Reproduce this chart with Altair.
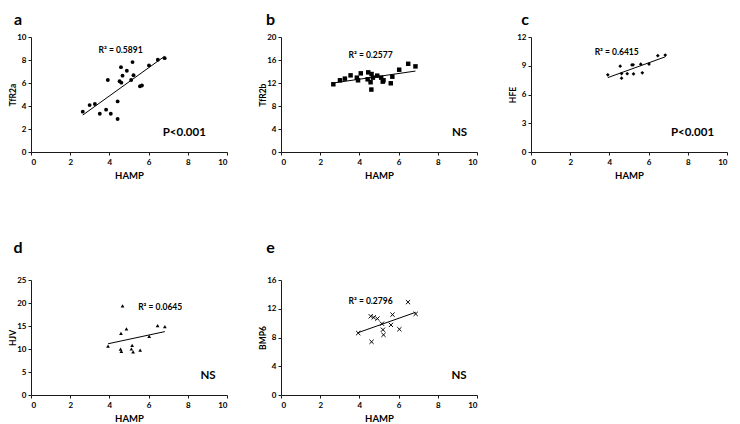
import altair as alt
import pandas as pd

FONT = "Lato"

# ---- data ----
a_x = [2.64, 2.99, 3.26, 3.51, 3.83, 3.92, 4.07, 4.42, 4.42, 4.52, 4.59, 4.61, 4.67, 4.89, 5.11, 5.18, 5.23, 5.56, 5.66, 6.02, 6.47, 6.82]
a_y = [3.51, 4.08, 4.17, 3.33, 3.68, 6.26, 3.33, 4.40, 2.87, 6.15, 7.38, 6.03, 6.64, 7.07, 6.26, 7.82, 6.67, 5.72, 5.78, 7.53, 8.02, 8.16]

b_x = [2.67, 3.01, 3.26, 3.55, 3.87, 3.93, 4.07, 4.42, 4.45, 4.57, 4.61, 4.62, 4.69, 4.91, 5.11, 5.19, 5.23, 5.60, 5.68, 6.03, 6.49, 6.86]
b_y = [11.78, 12.47, 12.76, 13.33, 12.93, 12.47, 13.68, 12.64, 13.85, 12.13, 10.86, 13.56, 12.93, 13.28, 12.93, 12.24, 12.47, 11.95, 13.10, 14.31, 15.34, 14.89]

c_x = [3.92, 4.55, 4.62, 4.62, 4.91, 5.15, 5.21, 5.23, 5.60, 5.68, 6.02, 6.47, 6.85]
c_y = [8.05, 8.95, 8.18, 7.70, 8.17, 9.08, 9.10, 8.15, 9.16, 8.26, 9.17, 10.05, 10.12]

d_x = [3.93, 4.67, 4.59, 4.87, 4.57, 4.61, 5.16, 5.12, 5.21, 5.57, 6.03, 6.46, 6.83]
d_y = [10.62, 19.40, 13.40, 14.35, 9.95, 9.50, 10.80, 10.00, 9.40, 9.75, 12.75, 15.08, 14.86]

e_x = [3.94, 4.58, 4.62, 4.73, 4.92, 5.15, 5.20, 5.23, 5.61, 5.69, 6.04, 6.48, 6.87]
e_y = [8.62, 10.95, 7.40, 10.80, 10.62, 9.92, 9.08, 8.37, 9.75, 11.18, 9.15, 12.92, 11.28]

letters = ["a", "b", "c", "d", "e"]
y_titles = ["TfR2a", "TfR2b", "HFE", "HJV", "BMP6"]
y_max = [10, 20, 12, 25, 16]
y_step = [2, 4, 3, 5, 4]
r2_text = ["R\u00b2 = 0.5891", "R\u00b2 = 0.2577", "R\u00b2 = 0.6415", "R\u00b2 = 0.0645", "R\u00b2 = 0.2796"]
r2_pos_x = [4.57, 4.57, 4.37, 6.59, 4.57]
r2_pos_y = [8.9, 16.84, 10.45, 19.06, 13.04]
sig_text = ["P<0.001", "NS", "P<0.001", "NS", "NS"]
sig_pos_x = [7.82, 9.11, 8.24, 9.03, 9.08]
sig_pos_y = [1.67, 3.33, 2.0, 4.17, 2.67]
x_ticks = [0, 2, 4, 6, 8, 10]

W, H = 196, 115
letter_dx = [-13, -10.5, -6, -13, -10.5]
letter_dy = [-17.5, -17.5, -17.5, -32, -32]

X_SHAPE = "M-1,-1L1,1M-1,1L1,-1"
shapes = ["circle", "square", "diamond", "triangle-up", X_SHAPE]
sizes = [15, 20, 14, 14, 18]
filled = [True, True, True, True, False]

xs_all = [a_x, b_x, c_x, d_x, e_x]
ys_all = [a_y, b_y, c_y, d_y, e_y]


def panel(i):
    df = pd.DataFrame({"HAMP": xs_all[i], "v": ys_all[i]})
    xsc = alt.Scale(domain=[0, 10], nice=False)
    ysc = alt.Scale(domain=[0, y_max[i]], nice=False)
    yvals = list(range(0, y_max[i] + 1, y_step[i]))
    xax = alt.Axis(values=x_ticks, title="HAMP", titlePadding=4, labelPadding=3,
                   labelOverlap=False)
    yax = alt.Axis(values=yvals, title=y_titles[i], labelPadding=2, labelOverlap=False,
                   titleX=-19, titleY=H / 2, titleBaseline="middle", titleAngle=270)
    xenc = alt.X("HAMP:Q", scale=xsc, axis=xax)
    yenc = alt.Y("v:Q", scale=ysc, axis=yax)
    base = alt.Chart(df)
    if filled[i]:
        pts = base.mark_point(shape=shapes[i], filled=True, size=sizes[i],
                              color="black", opacity=1)
    else:
        pts = base.mark_point(shape=shapes[i], filled=False, size=sizes[i],
                              color="black", opacity=1, strokeWidth=1)
    pts = pts.encode(x=xenc, y=yenc)
    line = base.transform_regression("HAMP", "v").mark_line(
        color="black", strokeWidth=1).encode(x=xenc, y=yenc)
    r2 = alt.Chart(pd.DataFrame({"HAMP": [r2_pos_x[i]], "v": [r2_pos_y[i]], "t": [r2_text[i]]})).mark_text(
        font=FONT, fontWeight="bold", fontSize=8.5, color="black").encode(
        x=xenc, y=yenc, text="t:N")
    sig = alt.Chart(pd.DataFrame({"HAMP": [sig_pos_x[i]], "v": [sig_pos_y[i]], "t": [sig_text[i]]})).mark_text(
        font=FONT, fontWeight="bold", fontSize=11.5, color="black").encode(
        x=xenc, y=yenc, text="t:N")
    let = alt.Chart(pd.DataFrame({"t": [letters[i]]})).mark_text(
        font=FONT, fontWeight="bold", fontSize=16, color="black", baseline="middle").encode(
        x=alt.value(letter_dx[i]), y=alt.value(letter_dy[i]), text="t:N")
    return alt.layer(pts, line, r2, sig, let).properties(width=W, height=H)


chart = alt.concat(*[panel(i) for i in range(5)], columns=3,
                   spacing={"row": 128, "column": 54}, bounds="flush").properties(
    padding={"top": 3, "left": 0, "right": 0, "bottom": 0}
).configure_view(stroke=None).configure_axis(
    grid=False, domainColor="#1a1a1a", tickColor="#1a1a1a", tickSize=3,
    labelOverlap=False,
    labelFont=FONT, labelFontWeight="bold", labelFontSize=8, labelColor="black",
    titleFont=FONT, titleFontWeight="bold", titleFontSize=9.5, titleColor="black"
).configure_axisY(titleFontSize=8.5)

chart.save("out.html", embed_options={"renderer": "svg", "actions": False})
